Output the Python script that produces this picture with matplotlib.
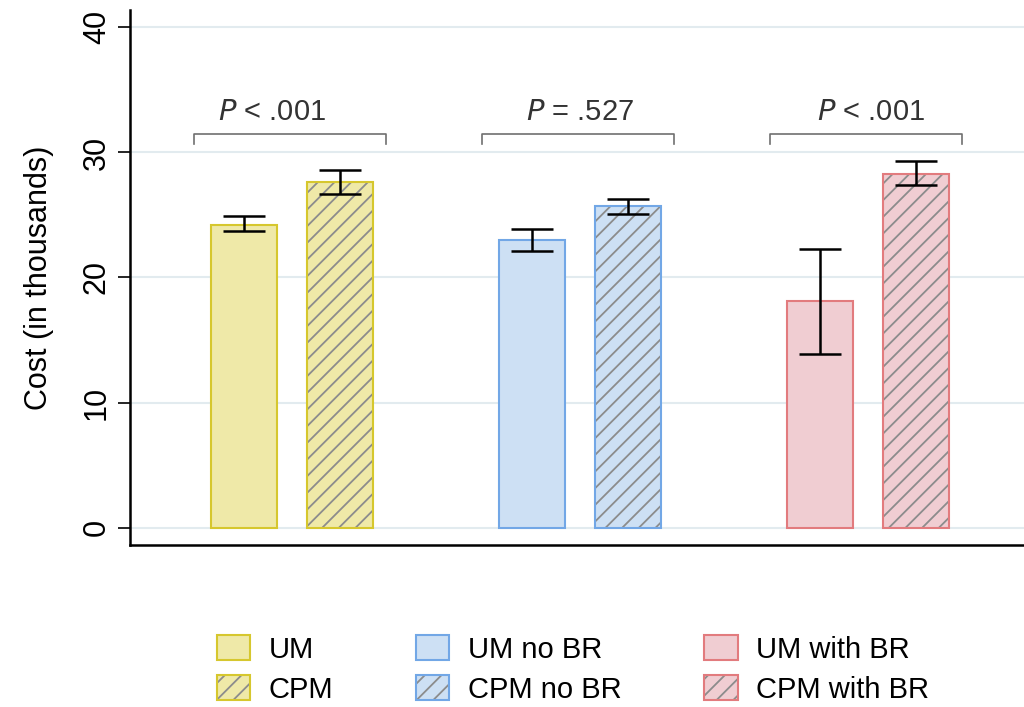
import matplotlib.pyplot as plt
import numpy as np

plt.rcParams['font.family'] = ['Liberation Sans', 'DejaVu Sans']
plt.rcParams['hatch.linewidth'] = 1.3

# mean cost (thousands) and error bar limits per group
groups = ['all', 'no BR', 'with BR']
um_mean = [24.2, 23.0, 18.1]
um_lo = [23.7, 22.1, 13.9]
um_hi = [24.9, 23.9, 22.3]
cpm_mean = [27.6, 25.7, 28.3]
cpm_lo = [26.7, 25.1, 27.4]
cpm_hi = [28.6, 26.3, 29.3]
p_labels = ['$\\it{P}$ < .001', '$\\it{P}$ = .527', '$\\it{P}$ < .001']
um_names = ['UM', 'UM no BR', 'UM with BR']
cpm_names = ['CPM', 'CPM no BR', 'CPM with BR']

fills = ['#efe9a8', '#cde0f4', '#f0cdd2']
edges = ['#d6c72e', '#72a7e6', '#e27b7e']
hatch_gray = '#8c8c8c'

fig = plt.figure(figsize=(10.24, 7.07), dpi=100)
ax = fig.add_axes([0.127, 0.229, 0.873, 0.757])

x = np.arange(len(groups))
off = 0.1667
w = 0.229
text_shift = [-0.07, 0.0, 0.01]

handles = []
for i in range(len(groups)):
    # plain bar
    b1 = ax.bar(x[i] - off, um_mean[i], w, color=fills[i], edgecolor=edges[i], linewidth=1.5, zorder=2)
    # hatched bar: hatch drawn in gray, outline in the group colour on top
    b2 = ax.bar(x[i] + off, cpm_mean[i], w, color=fills[i], edgecolor=hatch_gray, linewidth=0,
                hatch='//', zorder=2)
    b3 = ax.bar(x[i] + off, cpm_mean[i], w, fill=False, edgecolor=edges[i], linewidth=1.5, zorder=3)
    ax.errorbar(x[i] - off, um_mean[i],
                yerr=[[um_mean[i] - um_lo[i]], [um_hi[i] - um_mean[i]]],
                fmt='none', ecolor='black', elinewidth=1.8, capsize=15, capthick=1.8, zorder=4)
    ax.errorbar(x[i] + off, cpm_mean[i],
                yerr=[[cpm_mean[i] - cpm_lo[i]], [cpm_hi[i] - cpm_mean[i]]],
                fmt='none', ecolor='black', elinewidth=1.8, capsize=15, capthick=1.8, zorder=4)
    handles.append((b1[0], um_names[i]))
    handles.append(((b2[0], b3[0]), cpm_names[i]))

    # significance bracket
    ax.plot([x[i] - 0.34, x[i] - 0.34, x[i] + 0.325, x[i] + 0.325],
            [30.7, 31.5, 31.5, 30.7], color='#707070', linewidth=1.2, zorder=3)
    ax.text(x[i] + text_shift[i], 32.6, p_labels[i], ha='center', va='baseline',
            fontsize=21, color='#333333')

ax.set_xlim(-0.5625, 2.54)
ax.set_ylim(-1.4, 41.4)
ax.set_yticks([0, 10, 20, 30, 40])
ax.set_yticklabels(['0', '10', '20', '30', '40'], rotation=90, va='center', fontsize=22)
ax.set_xticks([])
ax.yaxis.grid(True, color='#e2ebef', linewidth=1.5, zorder=0)
ax.set_axisbelow(True)
ax.tick_params(axis='y', length=9, width=1.2, pad=4)
ax.spines['top'].set_visible(False)
ax.spines['right'].set_visible(False)
ax.spines['left'].set_linewidth(1.8)
ax.spines['bottom'].set_linewidth(1.8)
ax.set_ylabel('Cost (in thousands)', fontsize=22, labelpad=20)

fig.legend([h for h, _ in handles], [n for _, n in handles], ncol=3, frameon=False,
           loc='upper left', bbox_to_anchor=(0.212, 0.102), fontsize=21,
           borderpad=0, borderaxespad=0,
           handlelength=1.14, handleheight=0.97, columnspacing=2.85, labelspacing=0.38,
           handletextpad=0.62)

fig.savefig('out.png', dpi=100)
